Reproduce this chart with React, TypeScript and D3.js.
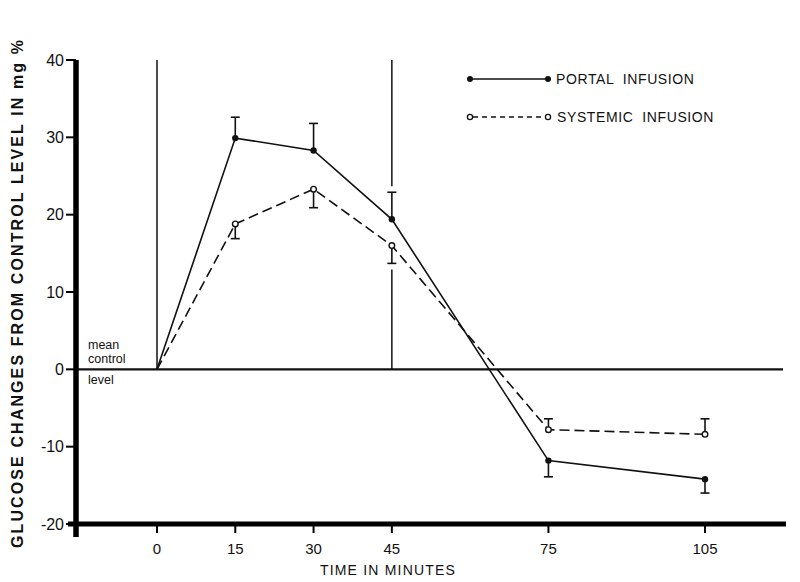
import React from "react";
import * as d3 from "d3";

const times = [0, 15, 30, 45, 75, 105];
const portal = [0, 29.9, 28.3, 19.4, -11.8, -14.2];
const portalErrEnd = [null, 32.6, 31.8, 22.9, -13.9, -16.0];
const systemic = [0, 18.8, 23.3, 16.0, -7.8, -8.4];
const systemicErrEnd = [null, 16.9, 20.9, 13.7, -6.4, -6.4];
const yTicks = [40, 30, 20, 10, 0, -10, -20];
const xTicks = [0, 15, 30, 45, 75, 105];
const markerTimes = [0, 45];

const W = 800;
const H = 582;
const FONT = "'Liberation Sans', Arial, sans-serif";

export default function App() {
  const x = d3.scaleLinear().domain([0, 105]).range([157, 705]);
  const y = d3.scaleLinear().domain([-20, 40]).range([524, 60]);
  const axisX = 76;
  const axisY = y(-20);
  const right = 786;

  const line = d3
    .line<[number, number]>()
    .x((d) => x(d[0]))
    .y((d) => y(d[1]));

  const portalPts: [number, number][] = times.map((t, i) => [t, portal[i]]);
  const systemicPts: [number, number][] = times.map((t, i) => [t, systemic[i]]);

  const errBars = (vals: number[], ends: (number | null)[], key: string) =>
    times.map((t, i) => {
      const e = ends[i];
      if (e === null) return null;
      const cx = x(t);
      return (
        <g key={key + i} stroke="#111" strokeWidth={1.6}>
          <line x1={cx} x2={cx} y1={y(vals[i])} y2={y(e)} />
          <line x1={cx - 4.5} x2={cx + 4.5} y1={y(e)} y2={y(e)} />
        </g>
      );
    });

  const i45 = times.indexOf(45);
  const gapTop = y(portalErrEnd[i45] as number) - 6;
  const gapBot = y(systemicErrEnd[i45] as number) + 6;

  return (
    <svg
      width={W}
      height={H}
      style={{ position: "absolute", left: 0, top: 0, background: "#fff" }}
      fontFamily={FONT}
    >
      <rect x={0} y={0} width={W} height={H} fill="#fff" />
      {markerTimes.map((t) =>
        t === 45 ? (
          <g key={t} stroke="#111" strokeWidth={1.5}>
            <line x1={x(t)} x2={x(t)} y1={y(40)} y2={gapTop} />
            <line x1={x(t)} x2={x(t)} y1={gapBot} y2={y(0)} />
          </g>
        ) : (
          <line key={t} x1={x(t)} x2={x(t)} y1={y(40)} y2={y(0)} stroke="#111" strokeWidth={1.5} />
        )
      )}
      <line x1={axisX} x2={right - 3} y1={y(0)} y2={y(0)} stroke="#111" strokeWidth={2.2} />
      <line x1={axisX} x2={axisX} y1={y(40)} y2={axisY + 13} stroke="#000" strokeWidth={5.5} />
      <line x1={axisX - 8} x2={right} y1={axisY} y2={axisY} stroke="#000" strokeWidth={5} />
      {yTicks.map((v) => (
        <g key={v}>
          <line x1={axisX - 10} x2={axisX} y1={y(v)} y2={y(v)} stroke="#000" strokeWidth={2} />
          <text
            x={axisX - 12}
            y={y(v)}
            textAnchor="end"
            dominantBaseline="central"
            fontSize={16}
            fill="#111"
          >
            {v}
          </text>
        </g>
      ))}
      {xTicks.map((t) => (
        <g key={t}>
          <line x1={x(t)} x2={x(t)} y1={axisY} y2={axisY + 9} stroke="#000" strokeWidth={2} />
          <text x={x(t)} y={axisY + 24} textAnchor="middle" dominantBaseline="central" fontSize={15} fill="#111">
            {t}
          </text>
        </g>
      ))}
      <text x={388} y={570} textAnchor="middle" dominantBaseline="central" fontSize={14} letterSpacing={1.2} fill="#111">
        TIME IN MINUTES
      </text>
      <text
        transform={`translate(17, 294) rotate(-90)`}
        textAnchor="middle"
        dominantBaseline="central"
        fontSize={16}
        fontWeight="bold"
        fill="#111"
        textLength={508}
        lengthAdjust="spacing"
      >
        GLUCOSE CHANGES FROM CONTROL LEVEL IN mg %
      </text>
      <g fontSize={12.5} fill="#111">
        <text x={88} y={345} dominantBaseline="central">mean</text>
        <text x={88} y={358.5} dominantBaseline="central">control</text>
        <text x={88} y={380} dominantBaseline="central">level</text>
      </g>
      <path d={line(portalPts) || ""} fill="none" stroke="#111" strokeWidth={1.6} />
      <path d={line(systemicPts) || ""} fill="none" stroke="#111" strokeWidth={1.6} strokeDasharray="10,5" />
      {errBars(portal, portalErrEnd, "p")}
      {errBars(systemic, systemicErrEnd, "s")}
      {portalPts.slice(1).map((d, i) => (
        <circle key={"pc" + i} cx={x(d[0])} cy={y(d[1])} r={3.2} fill="#111" />
      ))}
      {systemicPts.slice(1).map((d, i) => (
        <circle key={"sc" + i} cx={x(d[0])} cy={y(d[1])} r={2.8} fill="#fff" stroke="#111" strokeWidth={1.4} />
      ))}
      <g>
        <line x1={470} x2={548} y1={79} y2={79} stroke="#111" strokeWidth={1.6} />
        <circle cx={470} cy={79} r={3} fill="#111" />
        <circle cx={548} cy={79} r={3} fill="#111" />
        <text x={556} y={79} dominantBaseline="central" fontSize={14} letterSpacing={0.6} fill="#111" xmlSpace="preserve">
          PORTAL  INFUSION
        </text>
        <line x1={473} x2={545} y1={117} y2={117} stroke="#111" strokeWidth={1.6} strokeDasharray="5,4" />
        <circle cx={470} cy={117} r={2.6} fill="#fff" stroke="#111" strokeWidth={1.3} />
        <circle cx={548} cy={117} r={2.6} fill="#fff" stroke="#111" strokeWidth={1.3} />
        <text x={557} y={117} dominantBaseline="central" fontSize={14} letterSpacing={0.6} fill="#111" xmlSpace="preserve">
          SYSTEMIC  INFUSION
        </text>
      </g>
    </svg>
  );
}
